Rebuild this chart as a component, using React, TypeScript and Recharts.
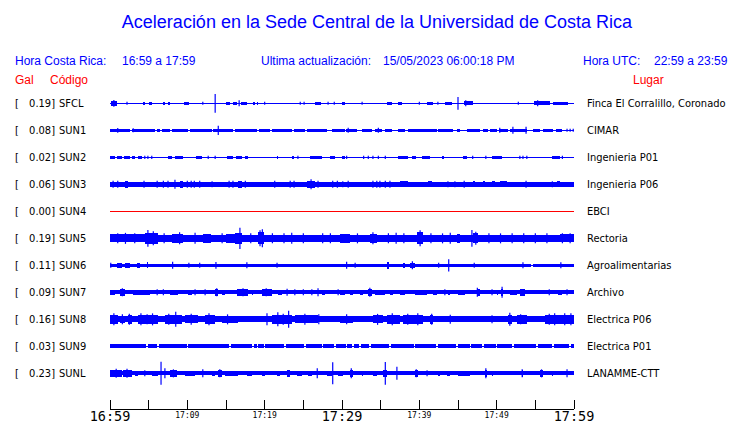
import { ComposedChart, Line, XAxis, YAxis, ReferenceArea, ReferenceLine } from "recharts";

// stations, top to bottom
const STATIONS = ["SFCL", "SUN1", "SUN2", "SUN3", "SUN4", "SUN5", "SUN6", "SUN7", "SUN8", "SUN9", "SUNL"];
const PEAK_GAL = [0.19, 0.08, 0.02, 0.06, 0.0, 0.19, 0.11, 0.09, 0.16, 0.03, 0.23];
const PLACES = [
  "Finca El Corralillo, Coronado",
  "CIMAR",
  "Ingenieria P01",
  "Ingenieria P06",
  "EBCI",
  "Rectoria",
  "Agroalimentarias",
  "Archivo",
  "Electrica P06",
  "Electrica P01",
  "LANAMME-CTT",
];

// time axis, minutes after 16:59
const TICK_MINUTES = [0, 5, 10, 15, 20, 25, 30, 35, 40, 45, 50, 55, 60];
const TICK_LABELS = ["16:59", "", "17:09", "", "17:19", "", "17:29", "", "17:39", "", "17:49", "", "17:59"];
const MAJOR_LABELS = ["16:59", "17:29", "17:59"];

// bursts: [from min, to min, half amplitude in counts]
const SFCL_BURSTS = [
  [0.1, 0.9, 2.5], [4.3, 4.5, 1.7], [5.0, 5.4, 1.7], [6.9, 7.1, 1.7], [7.5, 7.8, 1.7], [9.6, 10.2, 1.7],
  [15.0, 15.5, 1.7], [15.9, 16.4, 1.7], [16.9, 17.7, 1.7], [18.5, 18.8, 1.7], [19.0, 19.1, 1.7],
  [26.5, 27.3, 1.7], [30.0, 30.4, 1.3], [35.8, 36.5, 1.7], [37.2, 37.8, 1.7], [41.0, 41.8, 1.7],
  [43.3, 44.2, 1.7], [45.8, 46.9, 2], [54.8, 56.9, 2], [57.3, 59.2, 1.7],
];
const SUN1_BURSTS = [
  [0, 2.6, 1.5], [2.8, 5.8, 1.5], [6.1, 6.5, 1.5], [6.7, 7.8, 1.5], [8.0, 10.1, 1.5], [10.3, 13.2, 1.5],
  [13.3, 15.9, 1.5], [16.2, 19.0, 1.5], [19.3, 20.7, 1.5], [20.9, 23.5, 1.5], [23.8, 25.2, 1.5],
  [25.5, 28.1, 1.5], [28.7, 30.4, 1.5], [30.5, 31.9, 1.8], [32.6, 33.9, 1.5], [34.3, 35.2, 1.5],
  [35.6, 36.5, 1.2], [37.2, 38.1, 1.5], [38.5, 42.3, 1.5], [42.4, 44.4, 1.5], [44.9, 45.3, 1.5],
  [46.2, 47.8, 1.5], [48.2, 48.9, 1.5], [49.1, 50.0, 1.5], [50.3, 51.5, 1.5], [51.7, 53.9, 1.5],
  [54.7, 55.6, 1.5], [56.0, 57.3, 1.5], [57.7, 58.5, 1.5],
];
const SUN2_BURSTS = [
  [0, 0.6, 1.4], [0.9, 1.6, 1.4], [1.8, 2.6, 1.4], [2.8, 3.2, 1.4], [3.6, 4.1, 1.4], [7.5, 8.0, 1.4],
  [8.4, 9.4, 1.4], [11.1, 11.9, 1.4], [15.1, 15.9, 1.4], [16.3, 17.1, 1.4], [17.5, 17.8, 1.4],
  [21.6, 21.7, 1.4], [23.5, 23.8, 1.4], [25.9, 27.4, 1.4], [28.4, 29.1, 1.4], [30.0, 30.4, 1.4],
  [37.2, 38.5, 1.4], [39.1, 39.6, 1.4], [40.3, 41.4, 1.4], [42.9, 43.2, 1.4], [45.6, 46.2, 1.4],
  [49.4, 50.7, 1.4], [57.2, 58.2, 1.4],
];
const SUN3_BURSTS = [
  [0, 60, 2.2], [1.9, 2.3, 3.5], [9.1, 9.4, 3.2], [16.6, 17.1, 3.5], [25.5, 26.5, 3.2], [37.5, 38.5, 3],
  [41.1, 41.6, 3], [46.9, 47.2, 3], [48.2, 48.5, 3], [49.4, 49.8, 3], [50.4, 51.3, 3],
  [57.8, 58.2, 3], [58.2, 60, 2.6],
];
const SUN4_BURSTS: number[][] = [];
const SUN5_BURSTS = [
  [0, 60, 3.3], [0, 4.5, 4], [4.5, 6.2, 5.2], [8.0, 9.5, 4.2], [12, 13, 4.2], [15, 16.2, 4.2],
  [16.2, 17.1, 5.5], [19.1, 19.9, 6], [29.7, 31.0, 4.2], [33.6, 34.5, 4.2], [39.7, 40.5, 6],
  [44.9, 45.3, 4.2], [46.9, 47.6, 5], [58.2, 60, 4],
];
const SUN6_BURSTS = [
  [0, 54.4, 1.8], [54.7, 60, 1.8], [0.9, 1.6, 2.8], [1.9, 2.6, 2.4], [3.5, 3.9, 2.4], [4.8, 4.9, 3],
  [35.8, 36.1, 3.2], [37.9, 38.1, 2.4], [38.8, 39.4, 2.8],
];
const SUN7_BURSTS = [
  [0, 60, 2], [0, 0.6, 2.8], [1.3, 1.9, 3.2], [3.0, 5.2, 2.7], [7.8, 8.8, 2.7], [10.1, 10.6, 2.7],
  [13.6, 14.0, 3.2], [14.5, 14.9, 2.7], [16.4, 17.8, 3.2], [18.4, 18.5, 2.7], [19.7, 20.9, 3.2],
  [21.7, 22.2, 2.7], [27.4, 27.8, 2.7], [29.7, 30.4, 2.7], [31.0, 31.4, 2.7], [32.3, 32.7, 2.7],
  [33.4, 33.9, 3.2], [34.3, 35.6, 2.7], [36.2, 36.6, 2.7], [37.5, 38.1, 2.7], [39.4, 41.0, 2.7],
  [41.8, 42.3, 2.7], [43.7, 44.0, 2.7], [45.0, 45.9, 2.7], [47.5, 47.8, 3.2], [50.0, 50.2, 2.7],
  [50.6, 50.8, 3.5], [51.7, 52.6, 2.7], [53.0, 53.7, 3.2], [57.9, 58.5, 2.7],
];
const SUN8_BURSTS = [
  [0, 60, 3], [0, 1.0, 4.3], [1.3, 1.9, 3.8], [2.3, 2.8, 4.3], [3.6, 6.2, 4.3], [7.1, 9.3, 4.5],
  [9.7, 11.4, 4], [12.3, 13.6, 4.3], [14.5, 16.6, 3.7], [20.9, 23.5, 4.8], [23.9, 26.9, 4],
  [29.7, 31.4, 3.7], [34.0, 35.3, 4], [35.8, 37.5, 4.3], [37.9, 40.5, 4.3], [41.4, 41.8, 4.3],
  [51.5, 52.0, 4.8], [52.6, 53.9, 4.3], [56.3, 60, 4.6],
];
const SUN9_BURSTS = [
  [0, 4.7, 2], [4.9, 6.1, 2], [6.3, 9.9, 2], [10.1, 15.4, 2], [15.6, 18.4, 2], [18.6, 19.0, 2],
  [19.2, 19.9, 2], [20.1, 22.5, 2], [22.7, 25.1, 2], [25.3, 27.4, 2], [27.6, 29.0, 2], [29.2, 30.5, 2],
  [30.7, 31.3, 2], [31.5, 32.2, 2], [32.4, 33.5, 2], [33.7, 36.1, 2], [36.3, 39.3, 2], [39.5, 42.2, 2],
  [42.4, 44.8, 2], [45.0, 46.5, 2], [46.7, 48.1, 2], [48.3, 49.9, 2], [50.1, 52.0, 2], [52.2, 55.1, 2],
  [55.3, 57.2, 2], [57.4, 59.4, 2], [59.6, 60, 2],
];
const SUNL_BURSTS = [
  [0, 60, 2], [0, 1.6, 3.3], [1.7, 2.8, 3.6], [3.2, 3.6, 2.8], [5.4, 6.2, 2.8], [7.8, 8.7, 3.3],
  [9.7, 11.0, 2.8], [13.2, 13.6, 2.8], [14.0, 14.5, 3.3], [14.9, 16.6, 2.8], [17.7, 18.4, 2.8],
  [19.7, 20.0, 2.8], [21.6, 22.0, 2.8], [22.9, 23.3, 3.2], [24.2, 24.8, 2.8], [25.6, 26.1, 2.8],
  [28.1, 28.7, 2.8], [29.5, 30.1, 2.8], [31.0, 31.4, 3.2], [32.6, 32.7, 2.8], [34.0, 34.5, 2.8],
  [35.3, 35.8, 3.3], [39.4, 39.8, 3.3], [42.4, 42.7, 2.8], [43.6, 44.0, 2.8], [45.0, 46.6, 2.8],
  [48.5, 48.8, 3.2], [49.4, 49.5, 2.8], [53.3, 53.4, 3.3], [55.6, 56.0, 3.3], [57.2, 57.3, 2.8],
];

// spikes: [min, half amplitude in counts]
const SFCL_SPIKES = [
  [0.5, 3.3], [2.2, 1.5], [12.0, 1.5], [13.6, 9.3], [16.7, 3], [20.0, 1.5], [24.6, 1.5], [25.1, 1.5],
  [28.2, 1.5], [29.0, 1.5], [32.6, 1.5], [40.0, 1.5], [42.4, 1.5], [45.0, 6.3], [46.0, 3], [52.8, 1.5],
  [55.3, 3],
];
const SUN1_SPIKES = [
  [1.0, 2.3], [3.0, 2], [14.0, 4.7], [30.8, 2.5], [34.7, 2.5], [50.4, 2.5], [52.1, 3.5], [53.8, 3.5],
  [59.1, 1.5], [59.5, 1.5], [59.9, 1.5],
];
const SUN2_SPIKES = [
  [4.5, 1.7], [4.9, 1.7], [5.4, 1.7], [12.7, 1.7], [13.6, 1.7], [24.3, 1.7], [30.6, 1.7], [32.8, 1.7],
  [33.4, 1.7], [34.0, 1.7], [34.7, 1.7], [35.6, 1.7], [46.9, 1.7], [48.6, 1.7], [53.0, 1.7], [53.4, 1.7],
  [53.9, 1.7], [58.5, 1.7],
];
const SUN3_SPIKES = [
  [0.4, 3.5], [1.0, 3.5], [4.4, 3.5], [6.1, 3.5], [6.9, 3.5], [7.5, 3.5], [8.4, 4.5], [10.0, 3.5],
  [10.5, 3.5], [10.9, 3.5], [11.6, 3.5], [13.2, 3], [15.4, 3.5], [15.9, 3.5], [17.5, 3.5], [21.3, 3.5],
  [23.3, 3.5], [23.8, 3.5], [26.0, 5], [26.9, 3.5], [28.8, 3.5], [29.4, 3.5], [30.1, 3], [30.8, 3.5],
  [34.0, 3.5], [34.5, 3.5], [34.9, 3.5], [35.6, 3.5], [36.2, 3.5], [43.7, 3], [44.6, 3], [45.8, 3.5],
  [53.8, 3.5], [57.2, 3],
];
const SUN4_SPIKES: number[][] = [];
const SUN5_SPIKES = [
  [1.0, 5], [2.0, 5.5], [3.2, 5], [4.9, 8.3], [5.6, 7], [7.0, 5], [9.0, 6], [11.0, 5.5], [14.5, 5],
  [16.8, 10.7], [18.2, 5], [19.4, 8], [19.7, 9], [21.0, 5], [22.5, 5], [23.5, 5.5], [25.0, 5], [27.5, 5],
  [28.5, 5], [32.0, 5], [34.0, 6], [36.0, 5], [37.0, 5.5], [38.0, 5], [40.1, 8], [41.5, 5], [43.0, 5],
  [44.0, 5.5], [46.8, 8.3], [47.3, 6.5], [49.0, 5], [50.5, 5], [52.0, 5], [53.5, 5], [55.0, 5], [56.5, 5],
  [58.5, 5], [59.5, 5],
];
const SUN6_SPIKES = [
  [0.1, 2.5], [8.1, 3.5], [10.2, 2.5], [11.6, 2.5], [13.7, 3.3], [17.7, 3], [21.6, 2.5], [30.6, 3.5],
  [31.7, 2.5], [39.1, 4], [42.5, 2.5], [43.8, 6.2], [47.1, 2.5], [53.4, 3], [58.3, 3],
];
const SUN7_SPIKES = [
  [1.6, 4], [6.1, 3], [6.9, 3], [11.0, 3], [12.3, 3], [13.8, 4], [17.2, 4], [20.2, 4], [22.9, 3.5],
  [23.9, 3], [25.0, 3], [26.1, 3], [26.9, 4], [29.5, 3], [33.6, 4.5], [43.3, 3], [47.5, 4.5], [49.4, 3],
  [50.7, 5.5], [56.8, 3], [59.1, 3],
];
const SUN8_SPIKES = [
  [0.5, 6], [1.6, 5], [2.5, 5.5], [4.0, 6], [4.8, 5], [5.5, 6], [7.6, 5.5], [8.5, 7.5], [10.5, 5.5],
  [12.8, 6], [15.2, 5], [20.3, 6], [21.7, 7], [22.4, 5.5], [23.1, 8.5], [25.2, 5.5], [27.0, 5],
  [30.6, 5], [34.6, 5.5], [36.5, 6], [38.5, 5.5], [39.8, 6], [41.6, 5.5], [44.0, 4.5], [49.4, 4],
  [51.7, 6.5], [53.1, 5], [56.8, 5.5], [57.5, 6], [58.8, 6], [59.6, 6],
];
const SUN9_SPIKES: number[][] = [];
const SUNL_SPIKES = [
  [0.8, 4.5], [2.2, 4.5], [4.5, 3], [6.6, 11.5], [7.1, 5], [8.2, 4], [12.0, 4], [14.2, 4], [26.8, 5],
  [28.8, 11], [31.2, 5], [35.6, 11.3], [37.1, 6.5], [39.6, 4], [41.0, 3], [48.6, 5], [53.3, 4], [55.8, 4],
  [59.1, 4],
];

const BURSTS = [
  SFCL_BURSTS, SUN1_BURSTS, SUN2_BURSTS, SUN3_BURSTS, SUN4_BURSTS, SUN5_BURSTS,
  SUN6_BURSTS, SUN7_BURSTS, SUN8_BURSTS, SUN9_BURSTS, SUNL_BURSTS,
];
const SPIKES = [
  SFCL_SPIKES, SUN1_SPIKES, SUN2_SPIKES, SUN3_SPIKES, SUN4_SPIKES, SUN5_SPIKES,
  SUN6_SPIKES, SUN7_SPIKES, SUN8_SPIKES, SUN9_SPIKES, SUNL_SPIKES,
];

const COUNTS_PER_TRACE = 27;
const BLUE = "#0000ff";
const RED = "#ff0000";
const LABEL_FONT = "'DejaVu Sans Condensed', 'DejaVu Sans', sans-serif";
const HEAD_FONT = "'Liberation Sans', Arial, sans-serif";

// baseline of every trace, from the first to the last minute
const baseRows = [0, 60].map((t) => {
  const row: Record<string, number> = { t };
  STATIONS.forEach((s, i) => (row[s] = i));
  return row;
});

function StationTick(props: any) {
  const { y, payload } = props;
  const i = payload.value;
  return (
    <g fontFamily={LABEL_FONT} fontSize={11} fill="#000" style={{ fontStretch: "condensed" }}>
      <text x={15} y={y + 4}>[</text>
      <text x={55} y={y + 4} textAnchor="end">{PEAK_GAL[i].toFixed(2)}]</text>
      <text x={59} y={y + 4}>{STATIONS[i]}</text>
    </g>
  );
}

function PlaceTick(props: any) {
  const { y, payload } = props;
  return (
    <text x={587} y={y + 4} fontFamily={LABEL_FONT} fontSize={11} fill="#000" style={{ fontStretch: "condensed" }}>
      {PLACES[payload.value]}
    </text>
  );
}

function TimeTick(props: any) {
  const { x, y, payload } = props;
  const label = TICK_LABELS[TICK_MINUTES.indexOf(payload.value)];
  const big = MAJOR_LABELS.includes(label);
  return (
    <g>
      <line x1={x} x2={x} y1={y - 9} y2={y} stroke="#000" shapeRendering="crispEdges" />
      {label && (
        <text
          x={x}
          y={y + (big ? 12 : 9)}
          textAnchor="middle"
          fontFamily="'DejaVu Sans Mono', monospace"
          fontSize={big ? 13.5 : 8}
          fill="#000"
        >
          {label}
        </text>
      )}
    </g>
  );
}

export default function App() {
  return (
    <div style={{ position: "relative", width: 740, height: 423, background: "#fff" }}>
      <style>{"body{margin:0}"}</style>
      <ComposedChart
        width={740}
        height={423}
        data={baseRows}
        margin={{ top: 85, right: 0, bottom: 0, left: 0 }}
      >
        <XAxis
          dataKey="t"
          type="number"
          domain={[0, 60]}
          ticks={TICK_MINUTES}
          interval={0}
          height={14}
          tickSize={0}
          tickMargin={0}
          tickLine={false}
          axisLine={{ stroke: "#000", shapeRendering: "crispEdges" }}
          tick={<TimeTick />}
          allowDataOverflow
        />
        <YAxis
          yAxisId={0}
          type="number"
          domain={[-0.68, 11.32]}
          reversed
          ticks={STATIONS.map((_, i) => i)}
          interval={0}
          width={110}
          axisLine={false}
          tickLine={false}
          tick={<StationTick />}
          allowDataOverflow
        />
        <YAxis
          yAxisId="places"
          orientation="right"
          type="number"
          domain={[-0.68, 11.32]}
          reversed
          ticks={STATIONS.map((_, i) => i)}
          interval={0}
          width={166}
          axisLine={false}
          tickLine={false}
          tick={<PlaceTick />}
          allowDataOverflow
        />
        {BURSTS.flatMap((list, i) =>
          list.map(([t0, t1, a], k) => (
            <ReferenceArea
              key={`b${i}-${k}`}
              x1={t0}
              x2={t1}
              y1={i - a / COUNTS_PER_TRACE}
              y2={i + a / COUNTS_PER_TRACE}
              fill={BLUE}
              fillOpacity={1}
              stroke="none"
              shapeRendering="crispEdges"
            />
          ))
        )}
        {SPIKES.flatMap((list, i) =>
          list.map(([t, a], k) => (
            <ReferenceLine
              key={`s${i}-${k}`}
              segment={[
                { x: t, y: i - a / COUNTS_PER_TRACE },
                { x: t, y: i + a / COUNTS_PER_TRACE },
              ]}
              stroke={BLUE}
              strokeWidth={1.2}
            />
          ))
        )}
        {STATIONS.map((s, i) => (
          <Line
            key={s}
            dataKey={s}
            stroke={PEAK_GAL[i] === 0 ? RED : BLUE}
            strokeWidth={1}
            shapeRendering="crispEdges"
            dot={false}
            activeDot={false}
            isAnimationActive={false}
          />
        ))}
      </ComposedChart>
      <svg width={740} height={90} style={{ position: "absolute", left: 0, top: 0, pointerEvents: "none" }}>
        <text x={377} y={28} textAnchor="middle" fontFamily={HEAD_FONT} fontSize={18} fill={BLUE}>
          Aceleración en la Sede Central de la Universidad de Costa Rica
        </text>
        <g fontFamily={HEAD_FONT} fontSize={12} fill={BLUE}>
          <text x={15} y={65}>Hora Costa Rica:</text>
          <text x={122} y={65}>16:59 a 17:59</text>
          <text x={261} y={65}>Ultima actualización:</text>
          <text x={383} y={65}>15/05/2023 06:00:18 PM</text>
          <text x={583} y={65}>Hora UTC:</text>
          <text x={654} y={65}>22:59 a 23:59</text>
        </g>
        <g fontFamily={HEAD_FONT} fontSize={12} fill={RED}>
          <text x={15} y={84}>Gal</text>
          <text x={50} y={84}>Código</text>
          <text x={633} y={84}>Lugar</text>
        </g>
      </svg>
    </div>
  );
}
